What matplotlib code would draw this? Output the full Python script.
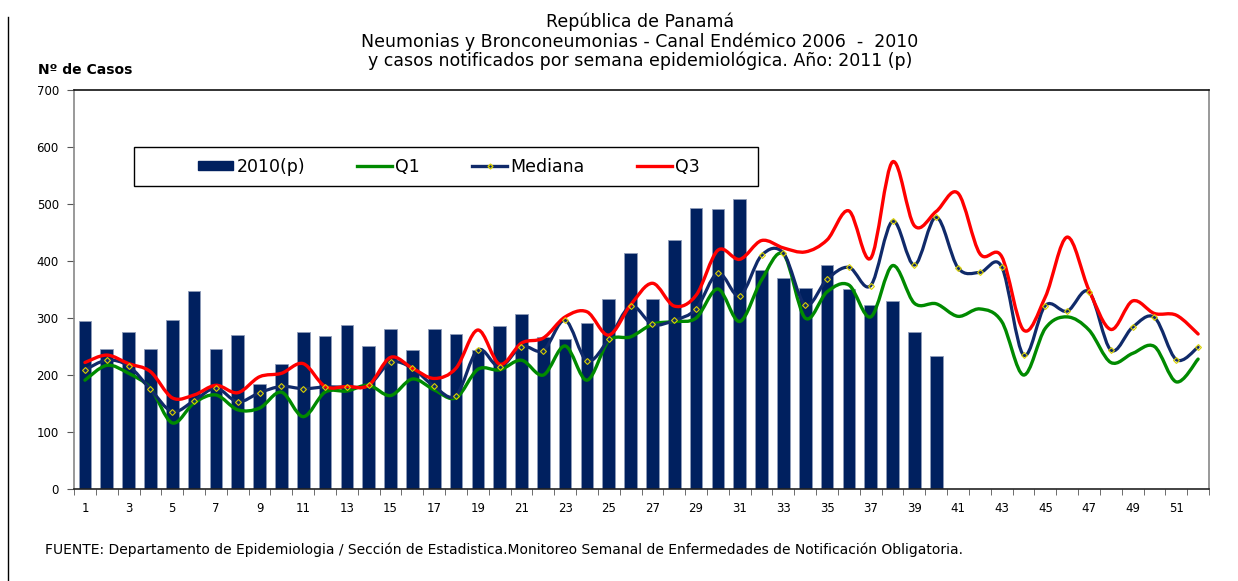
import numpy as np
import matplotlib.pyplot as plt
from matplotlib.path import Path
from matplotlib.patches import PathPatch, Patch, Rectangle
from matplotlib.lines import Line2D

plt.rcParams['font.family'] = ['DejaVu Sans']

weeks = list(range(1, 53))

# casos notificados 2010(p), semanas 1-40
casos = [295, 245, 275, 245, 296, 348, 245, 270, 184, 219,
         275, 268, 288, 251, 281, 244, 281, 272, 244, 286,
         307, 267, 263, 291, 333, 414, 333, 437, 493, 491,
         509, 384, 370, 353, 393, 351, 323, 330, 275, 233]

q1 = [191, 217, 203, 177, 116, 151, 165, 139, 142, 170,
      127, 170, 172, 182, 164, 193, 174, 160, 210, 209,
      226, 200, 251, 191, 260, 267, 289, 294, 300, 351,
      294, 367, 412, 300, 346, 358, 302, 392, 326, 325,
      303, 316, 294, 200, 282, 302, 279, 222, 238, 250,
      188, 228]

mediana = [209, 226, 216, 175, 136, 155, 177, 153, 169, 180,
           176, 179, 179, 182, 222, 212, 180, 164, 244, 214,
           250, 243, 296, 225, 263, 321, 289, 296, 316, 379,
           339, 410, 414, 323, 368, 389, 357, 470, 393, 477,
           388, 380, 390, 235, 322, 312, 346, 244, 284, 301,
           227, 249]

q3 = [222, 235, 220, 206, 160, 165, 182, 169, 197, 203,
      220, 180, 180, 182, 231, 212, 194, 212, 279, 219,
      256, 265, 302, 311, 270, 323, 361, 321, 340, 419,
      403, 436, 423, 416, 437, 488, 405, 574, 462, 487,
      519, 413, 408, 279, 337, 442, 349, 280, 330, 308,
      305, 272]

xlabels = [str(w) if w % 2 == 1 else '' for w in weeks]


def smooth_path(x, y):
    # curva suavizada tipo Excel (Bezier con tangentes Catmull-Rom)
    x = np.asarray(x, float)
    y = np.asarray(y, float)
    n = len(x)
    verts = [(x[0], y[0])]
    codes = [Path.MOVETO]
    for i in range(n - 1):
        i0 = max(i - 1, 0)
        i3 = min(i + 2, n - 1)
        c1 = (x[i] + (x[i + 1] - x[i0]) / 6, y[i] + (y[i + 1] - y[i0]) / 6)
        c2 = (x[i + 1] - (x[i3] - x[i]) / 6, y[i + 1] - (y[i3] - y[i]) / 6)
        verts += [c1, c2, (x[i + 1], y[i + 1])]
        codes += [Path.CURVE4] * 3
    return Path(verts, codes)


fig = plt.figure(figsize=(12.38, 5.81), dpi=100)
ax = fig.add_axes([0.0598, 0.1583, 0.9168, 0.6867])

navy = '#00205F'
ax.bar(weeks[:len(casos)], casos, width=0.58, color=navy,
       edgecolor='#8E9BB8', linewidth=0.6, zorder=2)

series = [(q1, '#008A00', 2.4, 'Q1'),
          (mediana, '#102A6A', 2.3, 'Mediana'),
          (q3, '#FF0000', 2.4, 'Q3')]
for vals, col, lw, name in series:
    ax.add_patch(PathPatch(smooth_path(weeks, vals), facecolor='none',
                           edgecolor=col, lw=lw, zorder=3,
                           capstyle='round', joinstyle='round'))
ax.plot(weeks, mediana, ls='none', marker='D', ms=3, mfc='none',
        mec='#D8D000', mew=0.8, zorder=4)

ax.set_xlim(0.5, 52.5)
ax.set_ylim(0, 700)
ax.set_yticks(range(0, 701, 100))
ax.set_xticks(weeks)
ax.set_xticklabels(xlabels)
ax.set_xticks(np.arange(0.5, 53, 1), minor=True)
ax.tick_params(axis='x', which='major', length=0, pad=9, labelsize=8.5)
ax.tick_params(axis='x', which='minor', length=4, color='#555555')
ax.tick_params(axis='y', length=5, color='#555555', labelsize=8.5, pad=6)
ax.spines['left'].set_color('#888888')
ax.spines['bottom'].set_color('#222222')
ax.spines['top'].set_color('#111111')
ax.spines['right'].set_color('#888888')
for s in ax.spines.values():
    s.set_linewidth(1.2)

# recuadro de la leyenda
ax.add_patch(Rectangle((0.0529, 0.7594), 0.5498, 0.0977, transform=ax.transAxes,
                       facecolor='white', edgecolor='black', lw=1.0, zorder=5))
handles = [Patch(color=navy),
           Line2D([], [], color='#008A00', lw=2.4),
           Line2D([], [], color='#102A6A', lw=2.4, marker='D', ms=2.5,
                  mfc='none', mec='#D8D000'),
           Line2D([], [], color='#FF0000', lw=2.4)]
leg = ax.legend(handles, ['2010(p)', 'Q1', 'Mediana', 'Q3'], ncol=4,
                loc='center', bbox_to_anchor=(0.3304, 0.808),
                fontsize=12.5, frameon=False, handlelength=2.0,
                handleheight=0.5, handletextpad=0.2, columnspacing=3.0)
leg.set_zorder(6)

fig.text(0.517, 0.962, 'República de Panamá', ha='center', va='center', fontsize=12.5)
fig.text(0.517, 0.928, 'Neumonias y Bronconeumonias - Canal Endémico 2006  -  2010',
         ha='center', va='center', fontsize=12.5)
fig.text(0.517, 0.896, 'y casos notificados por semana epidemiológica. Año: 2011 (p)',
         ha='center', va='center', fontsize=12.5)
fig.text(0.031, 0.879, 'Nº de Casos', ha='left', va='center', fontsize=10,
         fontweight='bold')
fig.text(0.036, 0.053, 'FUENTE: Departamento de Epidemiologia / Sección de Estadistica.'
         'Monitoreo Semanal de Enfermedades de Notificación Obligatoria.',
         ha='left', va='center', fontsize=10)
fig.add_artist(Line2D([0.0065, 0.0065], [0, 0.97], color='black', lw=1))

fig.savefig('out.png', dpi=100)
